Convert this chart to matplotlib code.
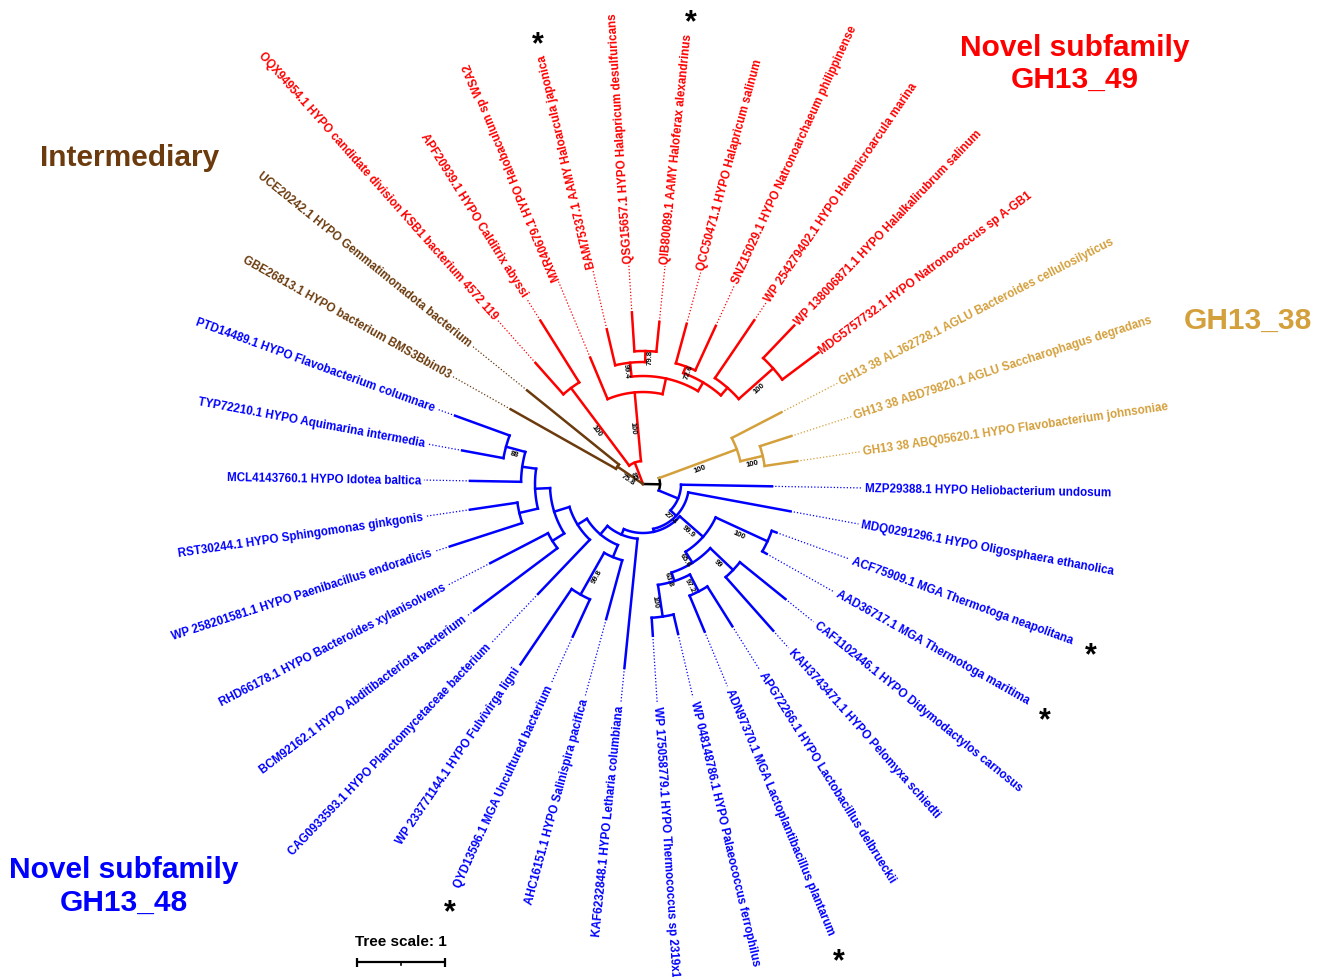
import numpy as np
import matplotlib
matplotlib.use("Agg")
import matplotlib.pyplot as plt
from matplotlib.font_manager import FontProperties
from matplotlib.textpath import TextPath

# ------------------------------------------------------------------
# Tree: topology, branch lengths (tree units) and support values
# ------------------------------------------------------------------
newick = (
    "(((L1:0.477,L2:0.830)100:1.102,(L3:0.511,((L4:0.420,(L5:0.443,L6:0.341)79.8:0.125)99.4:0.159,"
    "((L7:0.466,L8:0.557)72.6:0.080,(L9:0.795,(L10:0.511,L11:0.511)100:0.523):0.114):0.114):0.182)100:0.784)85:0.261,"
    "((L12:0.636,(L13:0.375,L14:0.375)100:0.261)100:0.943,"
    "(L15:1.034,(L16:1.182,(((L17:0.057,L18:0.057)100:0.648,((L19:0.665,L20:0.813)99:0.358,"
    "((L21:0.534,L22:0.443)97.2:0.216,(L23:0.227,L24:0.205)100:0.364)63.8:0.102)65.6:0.148)99.9:0.352,"
    "(L25:1.477,((L26:0.693,(L27:0.466,L28:1.034)99.8:0.545):0.148,(L29:0.852,((L30:1.182,L31:0.739):0.159,"
    "((L32:0.864,L33:0.545):0.216,(L34:0.580,(L35:0.477,L36:0.659)88:0.227):0.159):0.170):0.182):0.125):0.125):0.068)"
    ":0.034)27.4:0.091):0.239):0.193,(L37:1.375,L38:1.341)75.8:0.352);"
)

leaf_labels = [
    "OQX94954.1 HYPO candidate division KSB1 bacterium 4572 119",
    "APF20939.1 HYPO Calditrix abyssi",
    "MXR40679.1 HYPO Halobaculum sp WSA2",
    "BAM75337.1 AAMY Haloarcula japonica",
    "QSG15657.1 HYPO Halapricum desulfuricans",
    "QIB80089.1 AAMY Haloferax alexandrinus",
    "QCC50471.1 HYPO Halapricum salinum",
    "SNZ15029.1 HYPO Natronoarchaeum philippinense",
    "WP 254279402.1 HYPO Halomicroarcula marina",
    "WP 138006871.1 HYPO Halalkalirubrum salinum",
    "MDG5757732.1 HYPO Natronococcus sp A-GB1",
    "GH13 38 ALJ62728.1 AGLU Bacteroides cellulosilyticus",
    "GH13 38 ABD79820.1 AGLU Saccharophagus degradans",
    "GH13 38 ABQ05620.1 HYPO Flavobacterium johnsoniae",
    "MZP29388.1 HYPO Heliobacterium undosum",
    "MDQ0291296.1 HYPO Oligosphaera ethanolica",
    "ACF75909.1 MGA Thermotoga neapolitana",
    "AAD36717.1 MGA Thermotoga maritima",
    "CAF1102446.1 HYPO Didymodactylos carnosus",
    "KAH3743471.1 HYPO Pelomyxa schiedti",
    "APG72266.1 HYPO Lactobacillus delbrueckii",
    "ADN97370.1 MGA Lactoplantibacillus plantarum",
    "WP 048148786.1 HYPO Palaeococcus ferrophilus",
    "WP 175058779.1 HYPO Thermococcus sp 2319x1",
    "KAF6232848.1 HYPO Letharia columbiana",
    "AHC16151.1 HYPO Salinispira pacifica",
    "QYD13596.1 MGA Uncultured bacterium",
    "WP 233771144.1 HYPO Fulvivirga ligni",
    "CAG0933593.1 HYPO Planctomycetaceae bacterium",
    "BCM92162.1 HYPO Abditibacteriota bacterium",
    "RHD66178.1 HYPO Bacteroides xylanisolvens",
    "WP 258201581.1 HYPO Paenibacillus endoradicis",
    "RST30244.1 HYPO Sphingomonas ginkgonis",
    "MCL4143760.1 HYPO Idotea baltica",
    "TYP72210.1 HYPO Aquimarina intermedia",
    "PTD14489.1 HYPO Flavobacterium columnare",
    "GBE26813.1 HYPO bacterium BMS3Bbin03",
    "UCE20242.1 HYPO Gemmatimonadota bacterium",
]
leaf_clade = ["GH13_49"] * 11 + ["GH13_38"] * 3 + ["GH13_48"] * 22 + ["Intermediary"] * 2

# characterised enzymes, flagged with an asterisk
starred_leaves = ["L4", "L6", "L17", "L18", "L22", "L27"]

clade_colors = {
    "GH13_49": "#ff0000",
    "GH13_38": "#d4a03c",
    "GH13_48": "#0000ff",
    "Intermediary": "#6b3b0e",
}
clade_titles = {
    "GH13_49": ["Novel subfamily", "GH13_49"],
    "Intermediary": ["Intermediary"],
    "GH13_38": ["GH13_38"],
    "GH13_48": ["Novel subfamily", "GH13_48"],
}
tree_scale = 1

# ------------------------------------------------------------------
# Figure geometry
# ------------------------------------------------------------------
W, H, DPI = 1328, 978, 100
PX_PER_UNIT = 88.0
CX, CY = 643, 485
FIRST_LEAF_ANGLE = 131.6
LABEL_R = 2.525
DOT_END_R = 2.49
FONT = ["Liberation Sans", "DejaVu Sans"]


def parse_newick(s):
    pos = 0

    def node():
        nonlocal pos
        n = {"children": [], "name": "", "length": 0.0}
        if s[pos] == "(":
            pos += 1
            while True:
                n["children"].append(node())
                if s[pos] == ",":
                    pos += 1
                else:
                    pos += 1
                    break
        start = pos
        while pos < len(s) and s[pos] not in ":,);":
            pos += 1
        n["name"] = s[start:pos]
        if pos < len(s) and s[pos] == ":":
            pos += 1
            start = pos
            while s[pos] not in ",);":
                pos += 1
            n["length"] = float(s[start:pos])
        return n

    return node()


root = parse_newick(newick)
n_leaves = len(leaf_labels)
step = 360.0 / n_leaves
counter = [0]


def layout(n, r_parent, parent=None):
    n["parent"] = parent
    n["r0"] = r_parent
    n["r"] = r_parent + n["length"]
    if not n["children"]:
        idx = int(n["name"][1:]) - 1
        n["idx"] = idx
        n["angle"] = FIRST_LEAF_ANGLE - counter[0] * step
        counter[0] += 1
        n["clades"] = {leaf_clade[idx]}
    else:
        for c in n["children"]:
            layout(c, n["r"], n)
        n["angle"] = 0.5 * (n["children"][0]["angle"] + n["children"][-1]["angle"])
        n["clades"] = set().union(*[c["clades"] for c in n["children"]])
    n["color"] = clade_colors[next(iter(n["clades"]))] if len(n["clades"]) == 1 else "black"


layout(root, 0.0)


def pol(r, a):
    t = np.deg2rad(a)
    return r * np.cos(t), r * np.sin(t)


fig = plt.figure(figsize=(W / DPI, H / DPI), dpi=DPI)
ax = fig.add_axes([0, 0, 1, 1])
ax.set_xlim(-CX / PX_PER_UNIT, (W - CX) / PX_PER_UNIT)
ax.set_ylim(-(H - CY) / PX_PER_UNIT, CY / PX_PER_UNIT)
ax.axis("off")

BR_LW = 1.8
label_fp = FontProperties(family=FONT, weight="bold", size=8.4)


def text_rotation(a, limit_hi=270.0, limit_lo=90.0):
    am = a % 360.0
    if limit_lo < am < limit_hi:
        return am - 180.0, True
    return (am if am <= 180 else am - 360.0), False


def draw(n):
    col = n["color"]
    if n["parent"] is not None:
        x0, y0 = pol(n["r0"], n["angle"])
        x1, y1 = pol(n["r"], n["angle"])
        ax.plot([x0, x1], [y0, y1], color=col, lw=BR_LW, solid_capstyle="projecting", zorder=3)
    if n["children"]:
        if n["r"] > 0:
            a0, a1 = n["children"][0]["angle"], n["children"][-1]["angle"]
            aa = np.linspace(a0, a1, max(8, int(abs(a1 - a0) * 2)))
            xs, ys = pol(n["r"], aa)
            ax.plot(xs, ys, color=col, lw=BR_LW, solid_capstyle="projecting", zorder=3)
        # support value along the branch
        if n["name"] and n["parent"] is not None:
            rot, _ = text_rotation(n["angle"])
            rm = 0.5 * (n["r0"] + n["r"])
            xm, ym = pol(rm, n["angle"])
            off = 5.0 / PX_PER_UNIT
            t = np.deg2rad(rot)
            xm += off * np.sin(t)
            ym -= off * np.cos(t)
            ax.text(xm, ym, n["name"], fontsize=5.6, fontweight="bold", family=FONT,
                    rotation=rot, rotation_mode="anchor", ha="center", va="center",
                    color="black", zorder=5)
        for c in n["children"]:
            draw(c)
    else:
        a = n["angle"]
        xs, ys = pol(np.array([n["r"], DOT_END_R]), a)
        if DOT_END_R > n["r"]:
            ax.plot(xs, ys, color=col, lw=0.9, linestyle=(0, (1, 1.6)), zorder=2)
        clade = leaf_clade[n["idx"]]
        text = leaf_labels[n["idx"]]
        rot, flipped = text_rotation(a, limit_hi=270.0, limit_lo=117.0)
        xl, yl = pol(LABEL_R, a)
        ax.text(xl, yl, text, fontproperties=label_fp, color=clade_colors[clade],
                rotation=rot, rotation_mode="anchor", ha="right" if flipped else "left",
                va="center", zorder=4)
        if n["name"] in starred_leaves:
            w_pt = TextPath((0, 0), text, prop=label_fp).get_extents().width
            w_units = w_pt * DPI / 72.0 / PX_PER_UNIT
            rs = LABEL_R + w_units + 20.0 / PX_PER_UNIT
            xs_, ys_ = pol(rs, a)
            star_size = 22
            ys_ -= 0.55 * star_size * DPI / 72.0 / PX_PER_UNIT
            ax.text(xs_, ys_, "*", fontsize=star_size, fontweight="bold", family=FONT,
                    ha="center", va="baseline", color="black", zorder=4)


draw(root)

# ------------------------------------------------------------------
# Clade titles
# ------------------------------------------------------------------
title_pos = {
    "GH13_49": (1075, [56, 88]),
    "Intermediary": (130, [166]),
    "GH13_38": (1248, [329]),
    "GH13_48": (124, [878, 911]),
}
for clade, lines in clade_titles.items():
    x, ys = title_pos[clade]
    for line, y in zip(lines, ys):
        fig.text(x / W, 1 - y / H, line, fontsize=21.5, fontweight="bold", family=FONT,
                 color=clade_colors[clade], ha="center", va="baseline")

# ------------------------------------------------------------------
# Tree scale bar
# ------------------------------------------------------------------
sb_x0 = (357 - CX) / PX_PER_UNIT
sb_y = (CY - 963) / PX_PER_UNIT
tick = 4.5 / PX_PER_UNIT
ax.plot([sb_x0, sb_x0 + tree_scale], [sb_y, sb_y], color="black", lw=1.6, solid_capstyle="butt")
for xx in (sb_x0, sb_x0 + tree_scale):
    ax.plot([xx, xx], [sb_y - tick, sb_y + tick], color="black", lw=1.6, solid_capstyle="butt")
ax.plot([sb_x0 + tree_scale / 2] * 2, [sb_y, sb_y - 2.5 / PX_PER_UNIT], color="black", lw=1.2)
ax.text(sb_x0 + tree_scale / 2, sb_y + 16.5 / PX_PER_UNIT, f"Tree scale: {tree_scale}",
        fontsize=11, fontweight="bold", family=FONT, ha="center", va="baseline", color="black")

fig.savefig("out.png", dpi=DPI, facecolor="white")
